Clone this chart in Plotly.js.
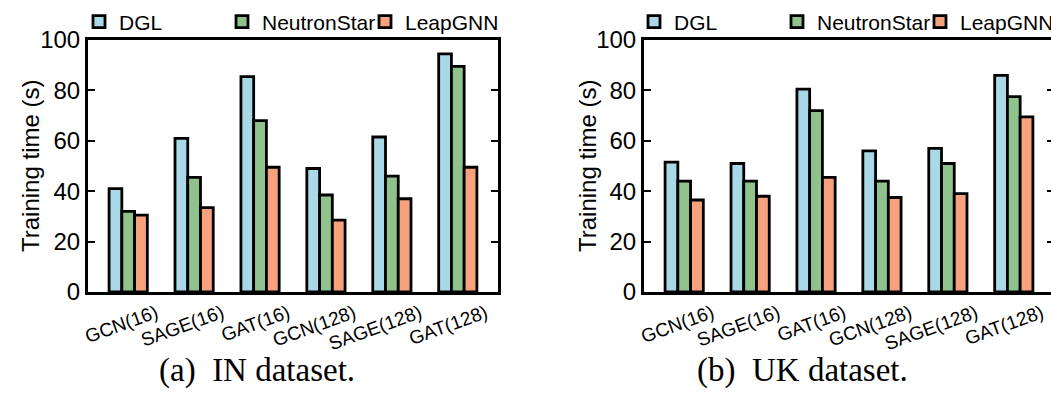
<!DOCTYPE html>
<html>
<head>
<meta charset="utf-8">
<script src="https://cdn.plot.ly/plotly-3.0.1.min.js"></script>
<style>
html,body{margin:0;padding:0;overflow:hidden;background:#fff;}
#chart{width:1060px;height:397px;}
</style>
</head>
<body>
<div id="chart"></div>
<script>
// Categories (x tick labels)
var categories = ['GCN(16)', 'SAGE(16)', 'GAT(16)', 'GCN(128)', 'SAGE(128)', 'GAT(128)'];
var seriesNames = ['DGL', 'NeutronStar', 'LeapGNN'];

// (a) IN dataset — training time (s)
var inDGL      = [41, 61, 85.5, 49, 61.5, 94.5];
var inNeutron  = [32, 45.5, 68, 38.5, 46, 89.5];
var inLeap     = [30.5, 33.5, 49.5, 28.5, 37, 49.5];

// (b) UK dataset — training time (s)
var ukDGL      = [51.5, 51, 80.5, 56, 57, 86];
var ukNeutron  = [44, 44, 72, 44, 51, 77.5];
var ukLeap     = [36.5, 38, 45.5, 37.5, 39, 69.5];

var yTickVals = [0, 20, 40, 60, 80, 100];
var yTitle = 'Training time (s)';
var captions = ['(a)  IN dataset.', '(b)  UK dataset.'];

var colors = ['#a9d8e6', '#8fc28d', '#f7a27d'];
var W = 1060, H = 397;
var sans = 'Liberation Sans, Arial, Helvetica, sans-serif';
var serif = 'Liberation Serif, Times New Roman, serif';

function mk(name, y, i, xa, ya, lg) {
  return {
    type: 'bar', name: name, x: categories, y: y,
    xaxis: xa, yaxis: ya, legend: lg,
    marker: {color: colors[i], line: {color: '#000', width: 2.8}},
    hoverinfo: 'x+y+name'
  };
}

var data = [
  mk(seriesNames[0], inDGL, 0, 'x', 'y', 'legend'),
  mk(seriesNames[1], inNeutron, 1, 'x', 'y', 'legend'),
  mk(seriesNames[2], inLeap, 2, 'x', 'y', 'legend'),
  mk(seriesNames[0], ukDGL, 0, 'x2', 'y2', 'legend2'),
  mk(seriesNames[1], ukNeutron, 1, 'x2', 'y2', 'legend2'),
  mk(seriesNames[2], ukLeap, 2, 'x2', 'y2', 'legend2')
];

function xax(dom, anchor) {
  return {
    domain: dom, anchor: anchor, type: 'category', automargin: false,
    range: [-0.61, 5.61],
    showline: true, mirror: true, linecolor: '#000', linewidth: 3,
    ticks: '', showgrid: false, zeroline: false,
    tickangle: -20, ticklabelshift: 28, ticklabelstandoff: 0,
    tickfont: {family: sans, size: 19, color: '#000'}
  };
}
function yax(anchor) {
  return {
    anchor: anchor, range: [0, 100], tickvals: yTickVals, automargin: false,
    showline: true, mirror: 'allticks', linecolor: '#000', linewidth: 3,
    ticks: 'inside', ticklen: 7, tickwidth: 2, tickcolor: '#000',
    showgrid: false, zeroline: false,
    tickfont: {family: sans, size: 24, color: '#000'}
  };
}

function leg(xpx) {
  return {
    orientation: 'h', xref: 'container', yref: 'container', x: xpx / W, y: 1 - 22 / H,
    xanchor: 'left', yanchor: 'middle', bgcolor: 'rgba(0,0,0,0)', borderwidth: 0,
    font: {family: sans, size: 21, color: '#000'},
    itemwidth: 30, entrywidth: 98, entrywidthmode: 'pixels',
    traceorder: 'normal', tracegroupgap: 0, itemclick: false, itemdoubleclick: false
  };
}

function ytitle(xpx) {
  return {text: yTitle, xref: 'paper', yref: 'paper', x: xpx / W, y: 0.5, xanchor: 'center', yanchor: 'middle',
          textangle: -90, showarrow: false, font: {family: sans, size: 24, color: '#000'}};
}
function caption(t, xpx) {
  return {text: t, xref: 'paper', yref: 'paper', x: xpx / W, y: -0.31, xanchor: 'center', yanchor: 'middle',
          showarrow: false, font: {family: serif, size: 33, color: '#000'}};
}

var layout = {
  width: W, height: H,
  margin: {l: 0, r: 0, t: 40, b: 105, autoexpand: false},
  paper_bgcolor: '#fff', plot_bgcolor: '#fff',
  barmode: 'group', bargap: 0.42, bargroupgap: 0,
  showlegend: true,
  xaxis: xax([88 / W, 498 / W], 'y'),
  yaxis: yax('x'),
  xaxis2: xax([644 / W, 1054 / W], 'y2'),
  yaxis2: yax('x2'),
  legend: leg(79),
  legend2: leg(634),
  annotations: [
    ytitle(30), ytitle(587),
    caption(captions[0], 257), caption(captions[1], 802)
  ]
};

Plotly.newPlot('chart', data, layout, {displayModeBar: false, staticPlot: true});
</script>
</body>
</html>
